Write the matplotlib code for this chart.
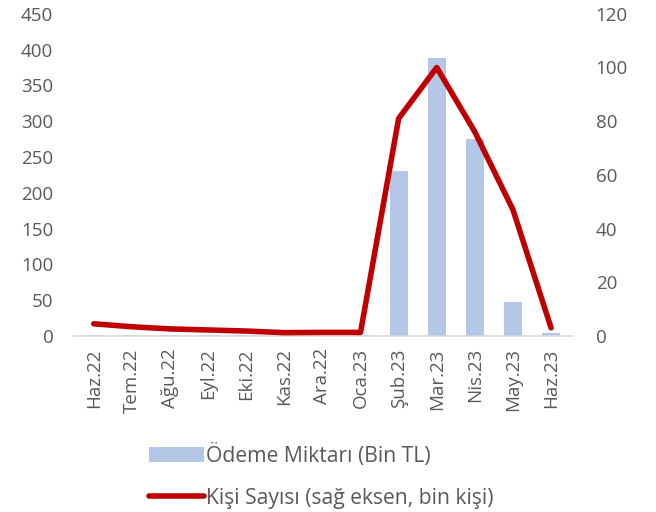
import numpy as np
import matplotlib.pyplot as plt

plt.rcParams['font.family'] = ['Open Sans', 'DejaVu Sans']

months = ['Haz.22', 'Tem.22', 'Ağu.22', 'Eyl.22', 'Eki.22', 'Kas.22', 'Ara.22',
          'Oca.23', 'Şub.23', 'Mar.23', 'Nis.23', 'May.23', 'Haz.23']
odeme = [1.5, 1.5, 1.2, 1.0, 0.8, 0.5, 0.5, 1.0, 231, 388, 275, 47, 4]
kisi = [4.5, 3.4, 2.6, 2.2, 1.8, 1.2, 1.3, 1.3, 81, 100, 76, 47, 3]

grey = '#595959'
fig = plt.figure(figsize=(6.56, 5.12), dpi=100)
ax = fig.add_axes([0.111, 0.344, 0.761, 0.629])
ax2 = ax.twinx()

x = np.arange(len(months))
bars = ax.bar(x, odeme, width=0.47, color='#b4c7e7', label='Ödeme Miktarı (Bin TL)', zorder=1)
line, = ax2.plot(x, kisi, color='#c00000', lw=4, solid_capstyle='round',
                 label='Kişi Sayısı (sağ eksen, bin kişi)')

ax.set_xlim(-0.55, len(months) - 0.45)
ax.set_ylim(0, 450)
ax2.set_ylim(0, 120)
ax.set_yticks(range(0, 451, 50))
ax2.set_yticks(range(0, 121, 20))
ax.set_xticks(x)
ax.set_xticklabels(months, rotation=90)

for a in (ax, ax2):
    for s in a.spines.values():
        s.set_visible(False)
    a.tick_params(length=0, labelsize=13.5, colors=grey, pad=6)
ax.spines['bottom'].set_visible(True)
ax.spines['bottom'].set_color('#d9d9d9')
ax.spines['bottom'].set_linewidth(1.2)
ax.tick_params(axis='x', pad=9)
ax.tick_params(axis='y', pad=14)
ax2.tick_params(axis='y', pad=17)

fig.legend([bars, line], [bars.get_label(), line.get_label()],
           loc='upper left', bbox_to_anchor=(0.2145, 0.15), frameon=False,
           fontsize=15.2, labelcolor=grey, handlelength=2.6, handletextpad=0.1,
           labelspacing=1.0, borderaxespad=0)

fig.savefig('out.png', dpi=100)
